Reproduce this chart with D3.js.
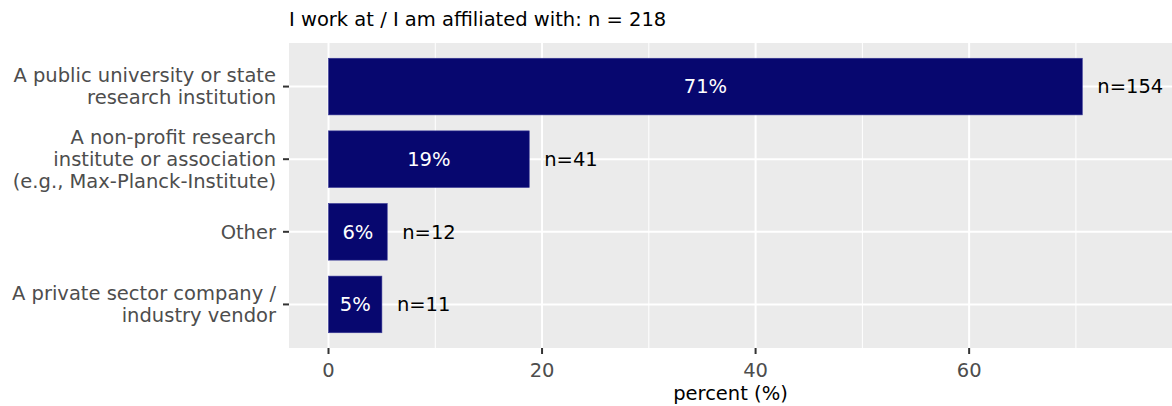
<!DOCTYPE html>
<html>
<head>
<meta charset="utf-8">
<script src="https://cdn.jsdelivr.net/npm/d3@7"></script>
<style>
  body { margin: 0; background: #fff; }
  text { font-family: "DejaVu Sans", sans-serif; }
</style>
</head>
<body>
<div id="chart"></div>
<script>
// data
var categories = [
    ["A public university or state", "research institution"],
    ["A non-profit research", "institute or association", "(e.g., Max-Planck-Institute)"],
    ["Other"],
    ["A private sector company /", "industry vendor"]
];
var counts = [154, 41, 12, 11];
var percents = [70.6, 18.8, 5.5, 5.0];
var pctLabels = ["71%", "19%", "6%", "5%"];
var xTicks = [0, 20, 40, 60];
var xMinor = [10, 30, 50, 70];
var total = 218;

var svgWidth = 1172, svgHeight = 406;
var panel = { left: 289, right: 1172, top: 43, bottom: 348 };
var fs = "19.5px";

var svg = d3.select("#chart").append("svg")
    .attr("width", svgWidth)
    .attr("height", svgHeight);

var x = d3.scaleLinear().domain([-3.7, 79.0]).range([panel.left, panel.right]);
// discrete axis with 0.6 expansion on each side
var y = d3.scaleLinear().domain([0.4, 4.6]).range([panel.top, panel.bottom]);
var barH = 0.78 * (y(2) - y(1));

svg.append("rect")
    .attr("x", panel.left).attr("y", panel.top)
    .attr("width", panel.right - panel.left)
    .attr("height", panel.bottom - panel.top)
    .attr("fill", "#ebebeb");

// grid
svg.selectAll(".minor").data(xMinor).enter().append("line")
    .attr("x1", d => x(d)).attr("x2", d => x(d))
    .attr("y1", panel.top).attr("y2", panel.bottom)
    .attr("stroke", "#fff").attr("stroke-width", 1);
svg.selectAll(".major").data(xTicks).enter().append("line")
    .attr("x1", d => x(d)).attr("x2", d => x(d))
    .attr("y1", panel.top).attr("y2", panel.bottom)
    .attr("stroke", "#fff").attr("stroke-width", 2);
svg.selectAll(".hgrid").data(categories).enter().append("line")
    .attr("x1", panel.left).attr("x2", panel.right)
    .attr("y1", (d, i) => y(i + 1)).attr("y2", (d, i) => y(i + 1))
    .attr("stroke", "#fff").attr("stroke-width", 2);

// bars
svg.selectAll(".bar").data(percents).enter().append("rect")
    .attr("class", "bar")
    .attr("x", x(0))
    .attr("y", (d, i) => y(i + 1) - barH / 2)
    .attr("width", d => x(d) - x(0))
    .attr("height", barH)
    .attr("fill", "#07076f")
    .attr("stroke", "#3b3b98")
    .attr("stroke-width", 0.6);

svg.selectAll(".pct").data(percents).enter().append("text")
    .attr("x", d => x(d / 2))
    .attr("y", (d, i) => y(i + 1))
    .attr("dy", "0.35em")
    .attr("text-anchor", "middle")
    .attr("fill", "#fff")
    .style("font-size", fs)
    .text((d, i) => pctLabels[i]);

svg.selectAll(".nlab").data(percents).enter().append("text")
    .attr("x", d => x(d) + 15)
    .attr("y", (d, i) => y(i + 1))
    .attr("dy", "0.35em")
    .attr("fill", "#000")
    .style("font-size", fs)
    .text((d, i) => "n=" + counts[i]);

// y axis
var yAxis = svg.append("g");
categories.forEach(function (lines, i) {
    var cy = y(i + 1);
    yAxis.append("line")
        .attr("x1", panel.left - 6).attr("x2", panel.left)
        .attr("y1", cy).attr("y2", cy)
        .attr("stroke", "#333").attr("stroke-width", 2);
    var lh = 22;
    var t = yAxis.append("text")
        .attr("text-anchor", "end")
        .attr("fill", "#4d4d4d")
        .style("font-size", fs);
    lines.forEach(function (s, j) {
        t.append("tspan")
            .attr("x", panel.left - 13)
            .attr("y", cy + (j - (lines.length - 1) / 2) * lh)
            .attr("dy", "0.35em")
            .text(s);
    });
});

// x axis
var xAxis = svg.append("g");
xAxis.selectAll("line").data(xTicks).enter().append("line")
    .attr("x1", d => x(d)).attr("x2", d => x(d))
    .attr("y1", panel.bottom).attr("y2", panel.bottom + 6)
    .attr("stroke", "#333").attr("stroke-width", 2);
xAxis.selectAll("text").data(xTicks).enter().append("text")
    .attr("x", d => x(d))
    .attr("y", panel.bottom + 22)
    .attr("dy", "0.35em")
    .attr("text-anchor", "middle")
    .attr("fill", "#4d4d4d")
    .style("font-size", fs)
    .text(d => d);

svg.append("text")
    .attr("x", (panel.left + panel.right) / 2)
    .attr("y", panel.bottom + 45)
    .attr("dy", "0.35em")
    .attr("text-anchor", "middle")
    .attr("fill", "#000")
    .style("font-size", fs)
    .text("percent (%)");

svg.append("text")
    .attr("x", panel.left)
    .attr("y", 19)
    .attr("dy", "0.35em")
    .attr("fill", "#000")
    .style("font-size", fs)
    .text("I work at / I am affiliated with: n = " + total);
</script>
</body>
</html>
